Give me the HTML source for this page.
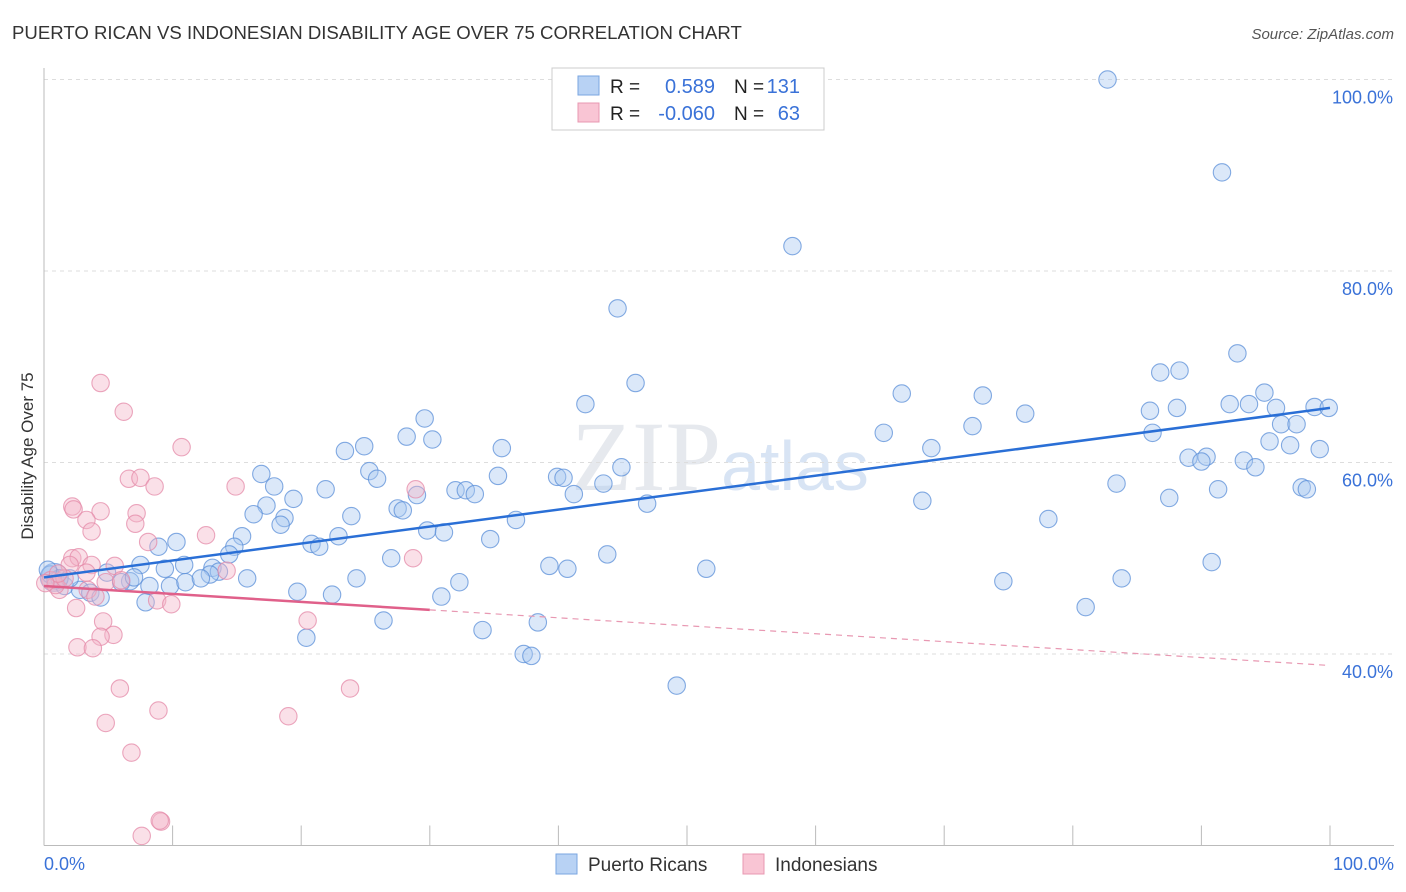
<!DOCTYPE html>
<html><head><meta charset="utf-8"><style>
body{margin:0;background:#fff;font-family:"Liberation Sans",sans-serif;}
svg{display:block}
</style></head><body>
<svg id="chart" width="1406" height="892" viewBox="0 0 1406 892">
<text x="12" y="39" font-size="18.6" fill="#333">PUERTO RICAN VS INDONESIAN DISABILITY AGE OVER 75 CORRELATION CHART</text>
<text x="1394" y="39" font-size="15" fill="#555" font-style="italic" text-anchor="end">Source: ZipAtlas.com</text>
<text x="33" y="456" font-size="17" fill="#333" text-anchor="middle" transform="rotate(-90 33 456)">Disability Age Over 75</text>
<text x="720" y="490" font-size="100" fill="#e6e9ee" text-anchor="middle" font-family="Liberation Serif,serif">ZIP<tspan font-family="Liberation Sans,sans-serif" font-size="70" fill="#d8e4f4">atlas</tspan></text>
<g id="grid"></g><g id="marks"></g><g id="lines"></g>
<g>
<rect x="552" y="68" width="272" height="62" fill="#fff" stroke="#ccc"/>
<rect x="578" y="76" width="21" height="19" fill="#b8d2f4" stroke="#7aa6e0"/>
<rect x="578" y="103" width="21" height="19" fill="#f9c5d4" stroke="#e898b2"/>
<text x="610" y="93" font-size="19" fill="#222">R =</text><text x="715" y="93" font-size="20" fill="#3a72d8" text-anchor="end">0.589</text>
<text x="734" y="93" font-size="19" fill="#222">N =</text><text x="800" y="93" font-size="20" fill="#3a72d8" text-anchor="end">131</text>
<text x="610" y="120" font-size="19" fill="#222">R =</text><text x="715" y="120" font-size="20" fill="#3a72d8" text-anchor="end">-0.060</text>
<text x="734" y="120" font-size="19" fill="#222">N =</text><text x="800" y="120" font-size="20" fill="#3a72d8" text-anchor="end">63</text>
</g>
<g>
<rect x="556" y="854" width="21" height="20" fill="#b8d2f4" stroke="#7aa6e0"/>
<text x="588" y="871" font-size="19" fill="#333">Puerto Ricans</text>
<rect x="743" y="854" width="21" height="20" fill="#f9c5d4" stroke="#e898b2"/>
<text x="775" y="871" font-size="19" fill="#333">Indonesians</text>
</g>
<text x="44" y="870" font-size="18" fill="#3a72d8">0.0%</text>
<text x="1394" y="870" font-size="18" fill="#3a72d8" text-anchor="end">100.0%</text>
</svg>
<script>
const yTicks=[100,80,60,40];
const yTickLabels=["100.0%","80.0%","60.0%","40.0%"];
const xTicks=[0,10,20,30,40,50,60,70,80,90,100];
const blueX=[82.7,91.6,58.2,44.6,92.8,46.0,86.8,88.3,66.7,73.0,94.9,92.2,93.7,95.8,98.8,99.9,86.0,88.1,76.3,42.1,29.6,72.2,96.2,97.4,65.3,86.2,28.2,30.2,24.9,23.4,35.6,69.0,95.3,96.9,99.2,89.0,90.4,90.0,93.3,94.2,44.9,25.3,25.9,16.9,35.3,39.9,40.4,43.5,17.9,21.9,32.0,32.8,33.5,29.0,41.2,83.4,91.3,97.8,98.2,19.4,17.3,46.9,68.3,87.5,27.5,27.9,16.3,18.7,23.9,18.4,36.7,78.1,29.8,31.1,15.4,22.9,10.3,8.9,20.8,21.4,34.7,14.8,14.4,27.0,43.8,7.5,9.4,10.9,90.8,13.1,13.6,12.9,39.3,40.7,51.5,4.9,6.7,6.0,7.0,8.2,9.8,11.0,12.2,15.8,24.3,32.3,74.6,83.8,1.6,2.8,3.6,4.4,19.7,22.4,30.9,7.9,81.0,26.4,38.4,34.1,20.4,37.3,37.9,49.2,0.5,0.9,1.2,0.3,2.0];
const blueY=[100,90.3,82.6,76.1,71.4,68.3,69.4,69.6,67.2,67.0,67.3,66.1,66.1,65.7,65.8,65.7,65.4,65.7,65.1,66.1,64.6,63.8,64.0,64.0,63.1,63.1,62.7,62.4,61.7,61.2,61.5,61.5,62.2,61.8,61.4,60.5,60.6,60.1,60.2,59.5,59.5,59.1,58.3,58.8,58.6,58.5,58.4,57.8,57.5,57.2,57.1,57.1,56.7,56.6,56.7,57.8,57.2,57.4,57.2,56.2,55.5,55.7,56.0,56.3,55.2,55.0,54.6,54.2,54.4,53.5,54.0,54.1,52.9,52.7,52.3,52.3,51.7,51.2,51.5,51.2,52.0,51.2,50.4,50.0,50.4,49.3,48.9,49.3,49.6,49.0,48.6,48.3,49.2,48.9,48.9,48.5,47.6,47.5,48.0,47.1,47.1,47.5,47.9,47.9,47.9,47.5,47.6,47.9,47.1,46.7,46.4,45.9,46.5,46.2,46.0,45.4,44.9,43.5,43.3,42.5,41.7,40.0,39.8,36.7,48.3,47.7,47.9,48.8,47.9];
const pinkX=[4.4,6.2,10.7,6.6,7.5,8.6,14.9,28.9,2.2,2.3,4.4,7.2,7.1,3.3,3.7,12.6,8.1,28.7,2.2,2.7,2.0,5.5,3.7,3.3,14.2,4.8,6.0,1.2,3.4,4.0,8.8,9.9,2.5,20.5,4.6,5.4,4.4,2.6,3.8,5.9,23.8,8.9,19.0,4.8,6.8,9.1,9.0,7.6,0.5,0.9,1.6,1.1,0.1];
const pinkY=[68.3,65.3,61.6,58.3,58.4,57.5,57.5,57.2,55.4,55.1,54.9,54.7,53.6,54.0,52.8,52.4,51.7,50.0,50.0,50.1,49.3,49.2,49.3,48.5,48.7,47.5,47.7,46.7,46.7,46.0,45.6,45.2,44.8,43.5,43.4,42.0,41.8,40.7,40.6,36.4,36.4,34.1,33.5,32.8,29.7,22.5,22.6,21.0,47.7,47.2,47.9,48.4,47.4];
const blueTrend=[48.0,65.7];
const pinkTrend=[47.1,38.8];
const pinkSolidEnd=30;
const NS="http://www.w3.org/2000/svg";
const X0=44,X1=1330,Y100=79.5,Y20=845.5;
function sx(v){return X0+(X1-X0)*v/100;}
function sy(v){return Y20-(Y20-Y100)*(v-20)/80;}
function mk(t,a,p){const e=document.createElementNS(NS,t);for(const k in a)e.setAttribute(k,a[k]);p.appendChild(e);return e;}
const grid=document.getElementById('grid'),marks=document.getElementById('marks'),lines=document.getElementById('lines');
yTicks.forEach((v,i)=>{
 const l=mk('line',{x1:X0,x2:1394,y1:sy(v),y2:sy(v),stroke:'#ddd','stroke-dasharray':'4 4'},grid);
 
 
 const t=mk('text',{x:1393,y:sy(v)+24,'font-size':18,fill:'#3a72d8','text-anchor':'end'},grid);
 t.textContent=yTickLabels[i];
 
 
});
const ax=mk('line',{x1:X0,x2:X0,y1:68,y2:Y20,stroke:'#bbb'},grid);


const bx=mk('line',{x1:X0,x2:1394,y1:Y20,y2:Y20,stroke:'#bbb'},grid);


xTicks.forEach(v=>{
 const l=mk('line',{x1:sx(v),x2:sx(v),y1:Y20-20,y2:Y20,stroke:'#bbb'},grid);
 
 
});
function pts(xs,ys,fill,stroke,name){
 xs.forEach((x,i)=>{
  const c=mk('circle',{cx:sx(x),cy:sy(ys[i]),r:8.7,fill:fill,'fill-opacity':0.42,stroke:stroke,'stroke-opacity':0.75,'stroke-width':1.1},marks);
  
  
 });
}
const big1=mk('circle',{cx:sx(0.8),cy:sy(48),r:14,fill:'#a9c6ef','fill-opacity':0.6,stroke:'#6d9ae0','stroke-opacity':0.75},marks);


pts(blueX,blueY,'#a9c8f0','#5b8fd8','point-puerto-rican');
pts(pinkX,pinkY,'#f4b6c8','#e48aa8','point-indonesian');
const b=mk('line',{x1:sx(0),y1:sy(blueTrend[0]),x2:sx(100),y2:sy(blueTrend[1]),stroke:'#2a6fd6','stroke-width':2.5},lines);


const pm=pinkTrend[0]+(pinkTrend[1]-pinkTrend[0])*pinkSolidEnd/100;
const p1=mk('line',{x1:sx(0),y1:sy(pinkTrend[0]),x2:sx(pinkSolidEnd),y2:sy(pm),stroke:'#e0608a','stroke-width':2.5},lines);


const p2=mk('line',{x1:sx(pinkSolidEnd),y1:sy(pm),x2:sx(100),y2:sy(pinkTrend[1]),stroke:'#e898b2','stroke-width':1.2,'stroke-dasharray':'6 5'},lines);


</script>
</body></html>
